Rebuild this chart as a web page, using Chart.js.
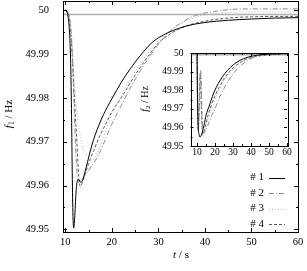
<!DOCTYPE html>
<html>
<head>
<meta charset="utf-8">
<script src="https://cdn.jsdelivr.net/npm/chart.js@4.4.0/dist/chart.umd.min.js"></script>
<style>
  body { margin: 0; background: #fff; }
  #wrap { position: relative; width: 307px; height: 271px; }
  #chart { display: block; }
  #inset { position: absolute; left: 130px; top: 40px; }
</style>
</head>
<body>
<div id="wrap">
  <canvas id="chart" width="307" height="271"></canvas>
  <canvas id="inset" width="165" height="125"></canvas>
</div>
<script>
// Series names (legend)
const seriesNames = ["# 1", "# 2", "# 3", "# 4"];

// Dead band line (Hz)
const deadBand = 49.999;

// Main plot: f1 over time, one time array per series
const mainT1 = [10, 10.3, 10.5, 10.7, 10.9, 11.1, 11.3, 11.45, 11.6, 11.8, 12.0, 12.3, 12.6, 12.9, 13.3, 13.7, 14.2, 14.8, 15.6, 16.4, 17.3, 18.2, 20, 22, 24, 26, 28.5, 30, 33, 36, 40, 45, 50, 55, 60];
const mainF1 = [50.0, 49.9997, 49.999, 49.9977, 49.995, 49.990, 49.979, 49.966, 49.955, 49.9503, 49.9525, 49.9585, 49.9612, 49.9613, 49.9607, 49.9612, 49.963, 49.9655, 49.9688, 49.9715, 49.974, 49.9762, 49.9798, 49.9835, 49.9867, 49.9895, 49.9925, 49.9937, 49.9953, 49.9964, 49.9972, 49.9977, 49.998, 49.9982, 49.9983];

const mainT2 = [10, 10.5, 11, 11.3, 11.6, 11.9, 12.2, 12.5, 12.8, 13.2, 14, 15, 16, 17, 18, 19, 20, 22, 24, 26, 28, 30, 32, 35, 38, 42, 46, 50, 60];
const mainF2 = [50.0, 49.9996, 49.9975, 49.994, 49.987, 49.978, 49.969, 49.963, 49.9607, 49.961, 49.962, 49.9635, 49.965, 49.9667, 49.969, 49.9715, 49.974, 49.9782, 49.9823, 49.986, 49.9893, 49.9922, 49.9947, 49.9972, 49.9988, 49.9997, 50.0002, 50.0003, 50.0003];

const mainT3 = [10, 10.5, 11, 11.5, 12, 12.5, 13, 13.6, 14.3, 15, 15.8, 16.5, 17.3, 18, 19, 20, 22, 24, 26, 28, 30, 32, 35, 38, 42, 46, 50, 60];
const mainF3 = [50.0, 49.9996, 49.9975, 49.992, 49.983, 49.9765, 49.9725, 49.9695, 49.9675, 49.9665, 49.966, 49.9665, 49.9685, 49.9705, 49.9735, 49.9762, 49.9805, 49.9843, 49.9876, 49.9905, 49.993, 49.995, 49.997, 49.9984, 49.9992, 49.9995, 49.9996, 49.9996];

const mainT4 = [10, 10.5, 10.9, 11.2, 11.5, 11.8, 12.1, 12.5, 12.9, 13.2, 13.6, 14.2, 15, 16.1, 17.5, 18.9, 20, 22, 24, 26, 28, 30, 32, 35, 40, 45, 50, 60];
const mainF4 = [50.0, 49.9995, 49.998, 49.9945, 49.9895, 49.983, 49.977, 49.9697, 49.962, 49.9598, 49.9605, 49.9625, 49.965, 49.968, 49.9715, 49.9745, 49.9768, 49.980, 49.9835, 49.9868, 49.9898, 49.9925, 49.9942, 49.996, 49.9975, 49.9982, 49.9985, 49.9986];

// Inset: f2 over time
const insT1 = [6.4, 10, 10.3, 10.7, 11.2, 11.7, 12.3, 13, 14, 15, 16.8, 18.5, 20.6, 23, 25.5, 28.5, 31.7, 36, 41, 46, 50, 55, 60];
const insF1 = [50.0, 50.0, 49.975, 49.9605, 49.956, 49.9548, 49.9555, 49.9575, 49.9615, 49.9665, 49.9715, 49.9765, 49.9813, 49.9855, 49.989, 49.9922, 49.9948, 49.997, 49.9984, 49.9991, 49.9994, 49.9996, 49.9997];

const insT2 = [6.4, 10, 10.3, 10.7, 11.1, 11.5, 12.0, 12.5, 13.0, 13.8, 14.5, 15, 16, 18, 20, 22, 25, 28, 32, 36, 40, 45, 50, 60];
const insF2 = [50.0, 50.0, 49.974, 49.960, 49.966, 49.980, 49.991, 49.978, 49.962, 49.957, 49.958, 49.959, 49.961, 49.966, 49.970, 49.975, 49.981, 49.986, 49.991, 49.9945, 49.997, 49.9988, 49.9996, 50.0];

const insT3 = [6.4, 10, 10.3, 10.7, 11.1, 11.7, 12.2, 12.8, 13.6, 14.3, 15, 16, 18, 20, 22, 25, 28, 32, 36, 40, 45, 50, 60];
const insF3 = [50.0, 50.0, 49.973, 49.958, 49.965, 49.986, 49.972, 49.960, 49.955, 49.957, 49.961, 49.964, 49.9695, 49.975, 49.9795, 49.985, 49.989, 49.993, 49.996, 49.9978, 49.999, 49.9995, 49.9998];

const insT4 = [6.4, 10, 10.3, 10.7, 11.1, 11.5, 11.9, 12.3, 12.8, 13.3, 14, 15, 16, 18, 20, 22, 25, 28, 32, 36, 40, 45, 50, 60];
const insF4 = [50.0, 50.0, 49.972, 49.958, 49.968, 49.984, 49.989, 49.975, 49.961, 49.9565, 49.958, 49.962, 49.966, 49.972, 49.977, 49.981, 49.986, 49.990, 49.9935, 49.996, 49.9975, 49.9985, 49.999, 49.9995];

// Line styles per series
const lineColors = ["#000000", "#8a8a8a", "#b8b8b8", "#555555"];
const lineDashes = [[], [5, 2, 1, 2], [1, 2], [3, 2]];
const serif = "'Liberation Serif', 'Times New Roman', serif";

Chart.defaults.font.family = serif;
Chart.defaults.color = "#000";

function pts(ts, fs) {
  return ts.map(function (t, i) { return { x: t, y: fs[i] }; });
}

function makeSets(pairs, xMin, xMax) {
  const sets = pairs.map(function (p, i) {
    return {
      label: seriesNames[i],
      data: pts(p[0], p[1]),
      borderColor: lineColors[i],
      borderDash: lineDashes[i],
      borderWidth: 1,
    };
  });
  // dead band reference line, drawn last so it sits under the curves
  sets.push({
    label: "band",
    data: [{ x: xMin, y: deadBand }, { x: xMax, y: deadBand }],
    borderColor: "#b0b0b0",
    borderWidth: 1.5,
  });
  return sets;
}

// Draw text with italic / subscript parts
function drawRich(ctx, parts, cx, cy, size, rot) {
  ctx.save();
  ctx.translate(cx, cy);
  ctx.rotate(rot);
  const fontFor = function (p) {
    return (p.italic ? "italic " : "") + (p.sub ? size * 0.7 : size) + "px " + serif;
  };
  let total = 0;
  parts.forEach(function (p) { ctx.font = fontFor(p); total += ctx.measureText(p.text).width; });
  let x = -total / 2;
  ctx.textBaseline = "middle";
  ctx.textAlign = "left";
  ctx.fillStyle = "#000";
  parts.forEach(function (p) {
    ctx.font = fontFor(p);
    ctx.fillText(p.text, x, p.sub ? size * 0.3 : 0);
    x += ctx.measureText(p.text).width;
  });
  ctx.restore();
}

// Frame, inward ticks, axis titles, optional legend
const decorPlugin = {
  id: "decor",
  beforeDraw(chart) {
    const a = chart.chartArea;
    const ctx = chart.ctx;
    ctx.save();
    ctx.fillStyle = "#fff";
    ctx.fillRect(a.left, a.top, a.right - a.left, a.bottom - a.top);
    ctx.restore();
  },
  afterDraw(chart, args, opts) {
    const a = chart.chartArea;
    const ctx = chart.ctx;
    const xs = chart.scales.x, ys = chart.scales.y;
    ctx.save();
    ctx.strokeStyle = "#000";
    ctx.lineWidth = 1;
    ctx.strokeRect(Math.round(a.left) + 0.5, Math.round(a.top) + 0.5, Math.round(a.right - a.left), Math.round(a.bottom - a.top));
    ctx.beginPath();
    for (let v = Math.ceil(xs.min / opts.xMinor) * opts.xMinor; v <= xs.max + 1e-9; v += opts.xMinor) {
      const px = Math.round(xs.getPixelForValue(v)) + 0.5;
      const major = Math.abs(v / opts.xMajor - Math.round(v / opts.xMajor)) < 1e-6;
      const len = major ? opts.major : opts.minor;
      ctx.moveTo(px, a.bottom); ctx.lineTo(px, a.bottom - len);
      ctx.moveTo(px, a.top); ctx.lineTo(px, a.top + len);
    }
    for (let k = Math.ceil(ys.min / opts.yMinor - 1e-6); k * opts.yMinor <= ys.max + 1e-9; k++) {
      const v = k * opts.yMinor;
      const py = Math.round(ys.getPixelForValue(v)) + 0.5;
      const major = Math.abs(v / opts.yMajor - Math.round(v / opts.yMajor)) < 1e-4;
      const len = major ? opts.major : opts.minor;
      ctx.moveTo(a.left, py); ctx.lineTo(a.left + len, py);
      ctx.moveTo(a.right, py); ctx.lineTo(a.right - len, py);
    }
    ctx.stroke();
    ctx.restore();

    (opts.titles || []).forEach(function (t) {
      drawRich(ctx, t.parts, t.x, t.y, t.size, t.rot || 0);
    });

    if (opts.legend) {
      const L = opts.legend;
      chart.data.datasets.slice(0, seriesNames.length).forEach(function (ds, i) {
        const y = L.top + i * L.gap;
        ctx.save();
        ctx.font = L.size + "px " + serif;
        ctx.fillStyle = "#000";
        ctx.textAlign = "right";
        ctx.textBaseline = "middle";
        ctx.fillText(ds.label, L.textRight, y);
        ctx.strokeStyle = ds.borderColor;
        ctx.lineWidth = 1;
        ctx.setLineDash(ds.borderDash || []);
        ctx.beginPath();
        ctx.moveTo(L.lineFrom, Math.round(y) + 0.5);
        ctx.lineTo(L.lineTo, Math.round(y) + 0.5);
        ctx.stroke();
        ctx.restore();
      });
    }
  },
};

function yLabel(v) {
  return String(Number(v.toFixed(2)));
}

// Fix axis sizes and drop the label padding Chart.js adds at the ends
function fixSize(w, h) {
  return function (s) {
    if (w !== null) s.width = w;
    if (h !== null) s.height = h;
    s.paddingTop = 0;
    s.paddingBottom = 0;
    s.paddingLeft = 0;
    s.paddingRight = 0;
  };
}

// Main chart
const mainChart = new Chart(document.getElementById("chart"), {
  type: "line",
  data: {
    datasets: makeSets([[mainT1, mainF1], [mainT2, mainF2], [mainT3, mainF3], [mainT4, mainF4]], 9.5, 60),
  },
  options: {
    responsive: false,
    animation: false,
    layout: { padding: { top: 1, right: 9, left: 0, bottom: 0 } },
    elements: { point: { radius: 0 }, line: { cubicInterpolationMode: "monotone" } },
    plugins: {
      legend: { display: false },
      tooltip: { enabled: false },
      decor: {
        xMinor: 5, xMajor: 10, yMinor: 0.005, yMajor: 0.01, major: 4, minor: 2,
        titles: [
          { parts: [{ text: "t", italic: true }, { text: " / s" }], x: 181, y: 255, size: 11 },
          { parts: [{ text: "f", italic: true }, { text: "1", sub: true }, { text: " / Hz" }], x: 9, y: 114, size: 11, rot: -Math.PI / 2 },
        ],
        legend: { top: 177.5, gap: 15.5, size: 11, textRight: 264, lineFrom: 269, lineTo: 285 },
      },
    },
    scales: {
      x: {
        type: "linear", min: 9.5, max: 60,
        grid: { display: false, drawTicks: false }, border: { display: false },
        ticks: { stepSize: 10, includeBounds: false, autoSkip: false, maxRotation: 0, padding: 4, font: { size: 10.5 } },
        afterFit: fixSize(null, 39),
      },
      y: {
        min: 49.9494, max: 50.0021,
        grid: { display: false, drawTicks: false }, border: { display: false },
        ticks: { stepSize: 0.01, includeBounds: false, autoSkip: false, padding: 14, font: { size: 10.5 }, callback: yLabel },
        afterFit: fixSize(63, null),
      },
    },
  },
  plugins: [decorPlugin],
});

// Inset chart
const insetChart = new Chart(document.getElementById("inset"), {
  type: "line",
  data: {
    datasets: makeSets([[insT1, insF1], [insT2, insF2], [insT3, insF3], [insT4, insF4]], 6.4, 60),
  },
  options: {
    responsive: false,
    animation: false,
    layout: { padding: { top: 13, right: 8, left: 0, bottom: 0 } },
    elements: { point: { radius: 0 }, line: { cubicInterpolationMode: "monotone" } },
    plugins: {
      legend: { display: false },
      tooltip: { enabled: false },
      decor: {
        xMinor: 5, xMajor: 10, yMinor: 0.005, yMajor: 0.01, major: 3, minor: 2,
        titles: [
          { parts: [{ text: "f", italic: true }, { text: "2", sub: true }, { text: " / Hz" }], x: 15, y: 59, size: 10, rot: -Math.PI / 2 },
        ],
      },
    },
    scales: {
      x: {
        type: "linear", min: 6.4, max: 60,
        grid: { display: false, drawTicks: false }, border: { display: false },
        ticks: { stepSize: 10, includeBounds: false, autoSkip: false, maxRotation: 0, padding: 1, font: { size: 9.5 } },
        afterFit: fixSize(null, 19),
      },
      y: {
        min: 49.95, max: 50.0,
        grid: { display: false, drawTicks: false }, border: { display: false },
        ticks: { stepSize: 0.01, autoSkip: false, padding: 7, font: { size: 9.5 }, callback: yLabel },
        afterFit: fixSize(60.5, null),
      },
    },
  },
  plugins: [decorPlugin],
});
</script>
</body>
</html>
